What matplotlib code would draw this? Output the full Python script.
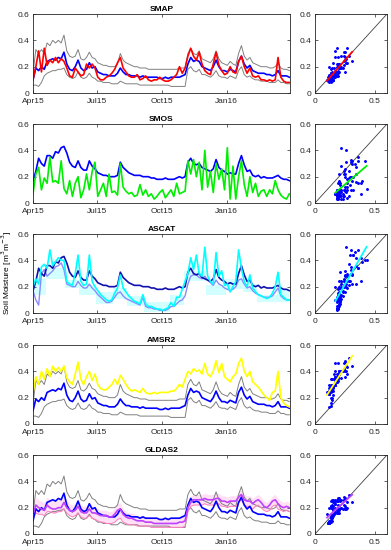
## Satellite soil moisture vs in situ, Apr 2015 - Mar 2016

import numpy as np
import pandas as pd
import matplotlib
matplotlib.use("Agg")
import matplotlib.pyplot as plt

plt.rcParams['font.family'] = ['Liberation Sans', 'DejaVu Sans']
plt.rcParams['font.size'] = 6

## 4-day samples from 1 Apr 2015
dates = pd.date_range("2015-04-01", periods=92, freq="4D")

# in situ mean + spread (SMAP / AMSR2 / GLDAS2 panels)
insitu_a = [0.10,0.19,0.17,0.20,0.18,0.24,0.25,0.26,0.25,0.27,
            0.26,0.31,0.22,0.18,0.17,0.20,0.25,0.19,0.17,0.18,
            0.23,0.19,0.20,0.16,0.15,0.14,0.14,0.13,0.13,0.13,
            0.15,0.19,0.16,0.14,0.14,0.13,0.13,0.13,0.12,0.13,
            0.12,0.12,0.12,0.12,0.12,0.11,0.11,0.12,0.11,0.12,
            0.12,0.12,0.12,0.13,0.14,0.22,0.27,0.24,0.25,0.24,
            0.20,0.19,0.18,0.17,0.20,0.25,0.20,0.17,0.17,0.16,
            0.18,0.17,0.16,0.24,0.28,0.22,0.19,0.21,0.17,0.16,
            0.15,0.15,0.15,0.14,0.14,0.13,0.14,0.17,0.13,0.13,
            0.13,0.12]
hi_a = [0.15,0.33,0.30,0.33,0.30,0.38,0.36,0.40,0.38,0.40,
        0.38,0.44,0.32,0.28,0.27,0.28,0.33,0.26,0.25,0.27,
        0.31,0.27,0.26,0.23,0.22,0.21,0.21,0.20,0.20,0.20,
        0.22,0.30,0.25,0.23,0.22,0.21,0.20,0.20,0.19,0.19,
        0.19,0.18,0.18,0.18,0.18,0.18,0.18,0.18,0.18,0.18,
        0.18,0.18,0.19,0.19,0.19,0.30,0.34,0.30,0.29,0.32,
        0.26,0.25,0.24,0.23,0.26,0.32,0.26,0.23,0.22,0.21,
        0.24,0.22,0.21,0.30,0.36,0.28,0.25,0.27,0.23,0.22,
        0.21,0.20,0.20,0.20,0.19,0.19,0.20,0.23,0.19,0.18,
        0.18,0.17]
lo_a = [0.06,0.06,0.05,0.08,0.13,0.15,0.16,0.17,0.17,0.18,
        0.18,0.19,0.14,0.12,0.11,0.12,0.16,0.12,0.11,0.12,
        0.15,0.12,0.11,0.09,0.09,0.08,0.08,0.08,0.07,0.07,
        0.07,0.09,0.08,0.07,0.07,0.07,0.07,0.07,0.06,0.06,
        0.06,0.06,0.06,0.06,0.06,0.06,0.06,0.06,0.06,0.05,
        0.05,0.05,0.05,0.05,0.05,0.18,0.20,0.17,0.16,0.18,
        0.14,0.14,0.13,0.12,0.14,0.17,0.13,0.12,0.12,0.11,
        0.13,0.12,0.11,0.17,0.20,0.14,0.12,0.13,0.11,0.10,
        0.10,0.09,0.09,0.09,0.08,0.08,0.08,0.10,0.08,0.08,
        0.07,0.07]

# in situ (SMOS / ASCAT panels)
insitu_b = [0.17,0.24,0.34,0.30,0.28,0.36,0.36,0.34,0.39,0.38,
            0.42,0.43,0.38,0.31,0.28,0.27,0.32,0.27,0.25,0.25,
            0.32,0.28,0.26,0.23,0.22,0.21,0.21,0.20,0.20,0.20,
            0.21,0.31,0.27,0.25,0.23,0.22,0.21,0.21,0.21,0.20,
            0.20,0.20,0.19,0.19,0.18,0.18,0.18,0.19,0.18,0.18,
            0.18,0.19,0.20,0.19,0.20,0.31,0.34,0.30,0.29,0.30,
            0.27,0.26,0.25,0.24,0.26,0.33,0.27,0.25,0.24,0.22,
            0.23,0.22,0.22,0.30,0.36,0.29,0.24,0.25,0.21,0.20,
            0.21,0.19,0.20,0.19,0.19,0.19,0.20,0.21,0.19,0.18,
            0.18,0.17]

smap = [0.10,0.20,0.32,0.16,0.34,0.21,0.25,0.23,0.27,0.23,
        0.26,0.24,0.19,0.13,0.12,0.19,0.16,0.13,0.14,0.22,
        0.19,0.22,0.19,0.12,0.10,0.10,0.12,0.13,0.15,0.18,
        0.23,0.27,0.19,0.16,0.13,0.12,0.12,0.14,0.10,0.11,
        0.13,0.10,0.09,0.10,0.10,0.12,0.10,0.09,0.09,0.10,
        0.12,0.14,0.20,0.15,0.19,0.28,0.34,0.28,0.25,0.31,
        0.22,0.17,0.15,0.14,0.22,0.31,0.21,0.17,0.14,0.15,
        0.20,0.16,0.15,0.24,0.28,0.20,0.15,0.19,0.13,0.12,
        0.13,0.10,0.10,0.09,0.10,0.09,0.10,0.27,0.12,0.09,
        0.08,0.08]

smos = [0.07,0.22,0.27,0.10,0.19,0.15,0.35,0.16,0.17,0.15,
        0.32,0.11,0.07,0.17,0.05,0.15,0.20,0.04,0.10,0.22,
        0.10,0.24,0.31,0.05,0.10,0.15,0.05,0.22,0.08,0.09,
        0.06,0.30,0.12,0.09,0.07,0.08,0.05,0.06,0.14,0.06,
        0.10,0.05,0.07,0.03,0.05,0.08,0.10,0.04,0.07,0.10,
        0.05,0.15,0.07,0.08,0.09,0.32,0.22,0.33,0.20,0.31,
        0.10,0.40,0.12,0.24,0.08,0.30,0.18,0.26,0.10,0.42,
        0.03,0.28,0.03,0.20,0.32,0.14,0.05,0.20,0.08,0.15,
        0.05,0.09,0.10,0.05,0.10,0.07,0.17,0.10,0.06,0.04,
        0.03,0.07]

ascat = [0.20,0.26,0.22,0.35,0.37,0.34,0.48,0.36,0.39,0.42,
         0.40,0.40,0.24,0.22,0.21,0.30,0.44,0.24,0.21,0.22,
         0.44,0.24,0.20,0.17,0.14,0.12,0.10,0.09,0.10,0.15,
         0.19,0.29,0.19,0.16,0.13,0.11,0.09,0.08,0.07,0.14,
         0.07,0.05,0.05,0.04,0.03,0.03,0.02,0.03,0.04,0.08,
         0.05,0.12,0.12,0.18,0.24,0.30,0.42,0.33,0.44,0.30,
         0.28,0.50,0.28,0.24,0.22,0.46,0.28,0.32,0.21,0.22,
         0.16,0.20,0.24,0.48,0.34,0.24,0.20,0.29,0.19,0.16,
         0.14,0.13,0.12,0.11,0.12,0.15,0.20,0.31,0.14,0.12,
         0.10,0.10]
ascat_low = [0.17,0.10,0.06,0.30,0.33,0.28,0.30,0.32,0.35,0.36,
             0.38,0.33,0.22,0.21,0.20,0.20,0.24,0.21,0.19,0.19,
             0.22,0.19,0.17,0.14,0.12,0.10,0.08,0.08,0.09,0.12,
             0.15,0.16,0.13,0.11,0.10,0.09,0.08,0.07,0.06,0.12,
             0.05,0.04,0.04,0.03,0.03,0.02,0.02,0.02,0.03,0.05,
             0.05,0.07,0.09,0.10,0.13,0.22,0.28,0.29,0.29,0.27,
             0.26,0.28,0.25,0.23,0.21,0.25,0.22,0.21,0.19,0.18,
             0.17,0.18,0.20,0.25,0.26,0.22,0.19,0.20,0.17,0.15,
             0.14,0.13,0.12,0.12,0.12,0.13,0.16,0.19,0.13,0.11,
             0.10,0.10]
# shaded ASCAT range (blocks)
ascat_band_lo = ([0.14]*5 + [0.26]*7 + [0.19]*5 + [0.14]*6 + [0.07]*6 + [0.11]*5 +
                 [0.05]*6 + [0.01]*9 + [0.06]*5 + [0.24]*8 + [0.14]*7 + [0.18]*6 +
                 [0.16]*5 + [0.08]*7 + [0.08]*5)
ascat_band_hi = ([0.26]*5 + [0.34]*7 + [0.25]*5 + [0.21]*6 + [0.16]*6 + [0.19]*5 +
                 [0.13]*6 + [0.08]*9 + [0.14]*5 + [0.32]*8 + [0.21]*7 + [0.26]*6 +
                 [0.22]*5 + [0.14]*7 + [0.18]*5)

amsr2 = [0.24,0.36,0.30,0.40,0.34,0.42,0.36,0.44,0.40,0.43,
         0.40,0.44,0.35,0.32,0.30,0.38,0.47,0.34,0.30,0.36,
         0.40,0.33,0.38,0.30,0.27,0.26,0.26,0.28,0.30,0.34,
         0.30,0.37,0.34,0.30,0.27,0.25,0.26,0.25,0.24,0.27,
         0.24,0.23,0.23,0.24,0.23,0.24,0.24,0.24,0.24,0.25,
         0.25,0.27,0.30,0.28,0.34,0.40,0.38,0.42,0.40,0.41,
         0.38,0.46,0.38,0.36,0.40,0.48,0.39,0.46,0.36,0.34,
         0.32,0.36,0.38,0.46,0.50,0.40,0.36,0.40,0.32,0.30,
         0.28,0.25,0.22,0.20,0.18,0.24,0.25,0.40,0.20,0.16,
         0.14,0.13]

gldas = [0.15,0.22,0.20,0.19,0.18,0.22,0.20,0.19,0.19,0.20,
         0.20,0.24,0.20,0.18,0.17,0.18,0.21,0.17,0.16,0.16,
         0.19,0.16,0.16,0.15,0.14,0.14,0.14,0.13,0.13,0.15,
         0.18,0.19,0.15,0.13,0.12,0.12,0.11,0.10,0.10,0.10,
         0.09,0.09,0.09,0.08,0.08,0.08,0.08,0.08,0.08,0.08,
         0.08,0.08,0.09,0.09,0.10,0.20,0.24,0.26,0.26,0.26,
         0.26,0.27,0.26,0.26,0.26,0.27,0.27,0.25,0.25,0.24,
         0.25,0.25,0.25,0.28,0.30,0.26,0.25,0.25,0.23,0.25,
         0.26,0.24,0.21,0.20,0.22,0.25,0.26,0.23,0.21,0.20,
         0.21,0.20]
gldas_lo = [0.12,0.16,0.15,0.15,0.14,0.17,0.17,0.16,0.16,0.17,
            0.17,0.19,0.16,0.14,0.13,0.14,0.16,0.13,0.12,0.12,
            0.14,0.12,0.11,0.10,0.09,0.09,0.08,0.08,0.08,0.09,
            0.11,0.12,0.09,0.08,0.07,0.07,0.07,0.06,0.06,0.06,
            0.06,0.06,0.05,0.05,0.05,0.05,0.05,0.05,0.05,0.05,
            0.05,0.05,0.05,0.05,0.06,0.17,0.21,0.22,0.22,0.22,
            0.22,0.23,0.22,0.22,0.22,0.23,0.23,0.21,0.21,0.20,
            0.21,0.21,0.21,0.24,0.26,0.22,0.21,0.21,0.19,0.21,
            0.22,0.20,0.18,0.17,0.18,0.21,0.22,0.19,0.18,0.17,
            0.18,0.17]
gldas_hi = [0.20,0.28,0.26,0.25,0.24,0.28,0.26,0.25,0.25,0.26,
            0.26,0.30,0.26,0.23,0.22,0.23,0.27,0.22,0.21,0.21,
            0.24,0.21,0.21,0.19,0.18,0.18,0.18,0.17,0.17,0.20,
            0.23,0.24,0.19,0.17,0.16,0.16,0.15,0.14,0.14,0.14,
            0.13,0.13,0.13,0.12,0.12,0.12,0.12,0.12,0.12,0.12,
            0.12,0.12,0.13,0.13,0.14,0.25,0.29,0.30,0.30,0.30,
            0.30,0.31,0.30,0.30,0.30,0.31,0.31,0.29,0.29,0.28,
            0.29,0.29,0.29,0.32,0.34,0.30,0.29,0.29,0.27,0.29,
            0.30,0.28,0.25,0.24,0.26,0.29,0.30,0.27,0.25,0.24,
            0.25,0.24]

panel_names = ["SMAP", "SMOS", "ASCAT", "AMSR2", "GLDAS2"]
tick_dates = pd.to_datetime(["2015-04-01", "2015-07-01", "2015-10-01", "2016-01-01"])
tick_labels = ["Apr15", "Jul15", "Oct15", "Jan16"]

## colours
c_blue = "#0000ff"
c_navy = "#1010b0"
c_gray = "#808080"
c_violet = "#c040ff"
c_pink = "#ff7fbf"


def style_axes(ax):
    ax.tick_params(direction="in", length=2.5, width=0.5, top=True, right=True,
                   labelsize=6, colors="#262626")
    ax.tick_params(axis="x", pad=3.5)
    ax.tick_params(axis="y", pad=2.5)
    for s in ax.spines.values():
        s.set_linewidth(0.6)
        s.set_color("#262626")


fig = plt.figure(figsize=(3.91, 5.5), dpi=100)

bottoms = [0.8309, 0.6309, 0.4309, 0.2291, 0.0291]
h = 0.1436

ts_axes = []
sc_axes = []
for k in range(5):
    ax = fig.add_axes([0.0844, bottoms[k], 0.6573, h])
    sx = fig.add_axes([0.8056, bottoms[k], 0.1841, h])
    ts_axes.append(ax)
    sc_axes.append(sx)

## SMAP
ax = ts_axes[0]
ax.plot(dates, hi_a, color=c_gray, lw=0.7)
ax.plot(dates, lo_a, color=c_gray, lw=0.7)
ax.plot(dates, insitu_a, color=c_blue, lw=1.2)
ax.plot(dates, smap, color="red", lw=1.2)

## SMOS
ax = ts_axes[1]
ax.plot(dates, insitu_b, color=c_blue, lw=1.2)
ax.plot(dates, smos, color="#00ee00", lw=1.2)

## ASCAT
ax = ts_axes[2]
ax.fill_between(dates, ascat_band_lo, ascat_band_hi, step="mid", color="#d2ffff", lw=0)
ax.plot(dates, ascat_low, color="#8a8aff", lw=1.0)
ax.plot(dates, insitu_b, color=c_navy, lw=1.2)
ax.plot(dates, ascat, color="#00ffff", lw=1.2)
ax.set_ylabel("Soil Moisture [m$^3$m$^{-3}$]", fontsize=6)
ax.yaxis.set_label_coords(-0.072, 0.5)

## AMSR2
ax = ts_axes[3]
ax.plot(dates, hi_a, color=c_gray, lw=0.7)
ax.plot(dates, lo_a, color=c_gray, lw=0.7)
ax.plot(dates, insitu_a, color=c_blue, lw=1.2)
ax.plot(dates, amsr2, color="#ffff00", lw=1.2)

## GLDAS2
ax = ts_axes[4]
ax.fill_between(dates, gldas_lo, gldas_hi, color="#ffe0f4", lw=0)
ax.plot(dates, hi_a, color=c_gray, lw=0.7)
ax.plot(dates, lo_a, color=c_gray, lw=0.7)
ax.plot(dates, gldas_lo, color=c_pink, lw=0.7)
ax.plot(dates, insitu_a, color=c_blue, lw=1.2)
ax.plot(dates, gldas, color=c_violet, lw=1.2)

for k, ax in enumerate(ts_axes):
    ax.set_xlim(pd.Timestamp("2015-04-01"), pd.Timestamp("2016-03-31"))
    ax.set_ylim(0, 0.6)
    ax.set_yticks([0, 0.2, 0.4, 0.6])
    ax.set_yticklabels(["0", "0.2", "0.4", "0.6"])
    ax.set_xticks(tick_dates)
    ax.set_xticklabels(tick_labels)
    ax.set_title(panel_names[k], fontsize=6, fontweight="bold", pad=2)
    style_axes(ax)

## scatter panels: in situ vs product
pairs = [(insitu_a, smap, "red"),
         (insitu_b, smos, "#00ee00"),
         (insitu_b, ascat, "#00ffff"),
         (insitu_a, amsr2, "#ffff00"),
         (insitu_a, gldas, c_violet)]

for k, sx in enumerate(sc_axes):
    x = np.array(pairs[k][0])
    y = np.array(pairs[k][1])
    sx.plot([0, 0.6], [0, 0.6], color="#404040", lw=0.6)
    sx.plot(x, y, ".", color=c_blue, ms=2.2)
    p = np.polyfit(x, y, 1)
    xl = np.array([x.min(), x.max()])
    sx.plot(xl, np.polyval(p, xl), color=pairs[k][2], lw=1.3)
    sx.set_xlim(0, 0.6)
    sx.set_ylim(0, 0.6)
    sx.set_xticks([0, 0.5])
    sx.set_xticklabels(["0", "0.5"])
    sx.set_yticks([0, 0.2, 0.4, 0.6])
    sx.set_yticklabels(["0", "0.2", "0.4", "0.6"])
    style_axes(sx)

plt.savefig("out.png", dpi=100)
plt.close()
